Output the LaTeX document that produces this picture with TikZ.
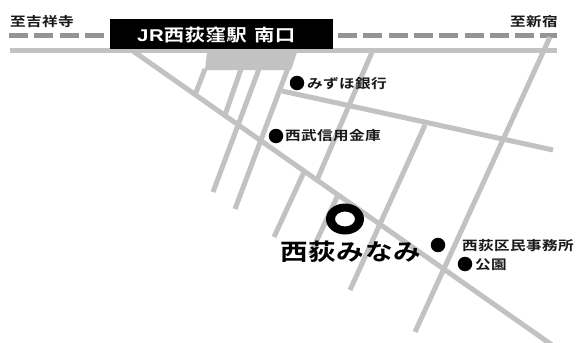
\documentclass[tikz,border=0pt]{standalone}
\usepackage{fontspec}
\setmainfont{Noto Sans CJK JP}[BoldFont={Noto Sans CJK JP Bold}]
\newfontfamily\trk{Noto Sans CJK JP Bold}[FakeStretch=1.2,LetterSpace=3]
\newfontfamily\lat{Liberation Sans Bold}[FakeStretch=1.2,LetterSpace=3]
\definecolor{roadgray}{gray}{0.76}
\definecolor{railgray}{gray}{0.58}
\tikzset{
  road/.style={draw=roadgray,line width=5pt},
  dashrail/.style={draw=railgray,line width=5pt,dash pattern=on 19pt off 6.3pt},
  lbl/.style={inner sep=0pt,anchor=west,font=\trk\fontsize{13}{15}\selectfont,text=black!90},
  spot/.style={circle,fill=black,inner sep=0pt,minimum size=14.5pt},
}
\begin{document}
\begin{tikzpicture}[x=1pt,y=-1pt]
\useasboundingbox (0,0) rectangle (579,343);
\fill[white] (0,0) rectangle (579,343);
\coordinate (rl) at (10,50); \coordinate (rr) at (557,50);
\draw[road] (rl) -- (rr);
\draw[dashrail] (9,35) -- (105,35);
\draw[dashrail] (338,35) -- (557,35);
\fill[roadgray] (207,52) -- (297,52) -- (291,70) -- (205,70) -- cycle;
\draw[road] (133,51) -- (552,345);
\draw[road] (205,69) -- (195,95);
\draw[road] (241,69) -- (225,115);
\draw[road] (259,69) -- (213,192);
\draw[road] (294,52) -- (235,209);
\draw[road] (372,52) -- (317,180);
\draw[road] (304,172) -- (274,237);
\draw[road] (338,195) -- (310,255);
\draw[road] (550,37) -- (415,332);
\draw[road] (425,125) -- (350,290);
\draw[road] (282,91) -- (553,150);
\node[fill=black,minimum width=222.5pt,minimum height=30pt,inner sep=0pt,anchor=north west] (st) at (110,19) {};
\node[text=white,inner sep=0pt,anchor=west,font=\trk\fontsize{17}{19}\selectfont] (stn) at (137,35) {{\lat\fontsize{17}{19}\selectfont JR}西荻窪駅\hspace{2pt} 南口};
\node[lbl] (a) at (10,22) {至吉祥寺};
\node[lbl,anchor=east] (b) at (558,22) {至新宿};
\node[spot] (s1) at (297,83) {};
\node[lbl] (t1) at (307,84) {みずほ銀行};
\node[spot] (s2) at (276,136) {};
\node[lbl] (t2) at (285,136) {西武信用金庫};
\node[spot] (s3) at (438,245) {};
\node[lbl] (t3) at (462,246) {西荻区民事務所};
\node[spot] (s4) at (465,264) {};
\node[lbl] (t4) at (475,265) {公園};
\fill[black,even odd rule] (345,219) ellipse [x radius=19pt,y radius=15.5pt] (345,219) ellipse [x radius=10pt,y radius=7.5pt];
\node[inner sep=0pt,anchor=west,font=\trk\fontsize{23}{25}\selectfont] (n) at (280,252) {西荻みなみ};
\end{tikzpicture}
\end{document}
